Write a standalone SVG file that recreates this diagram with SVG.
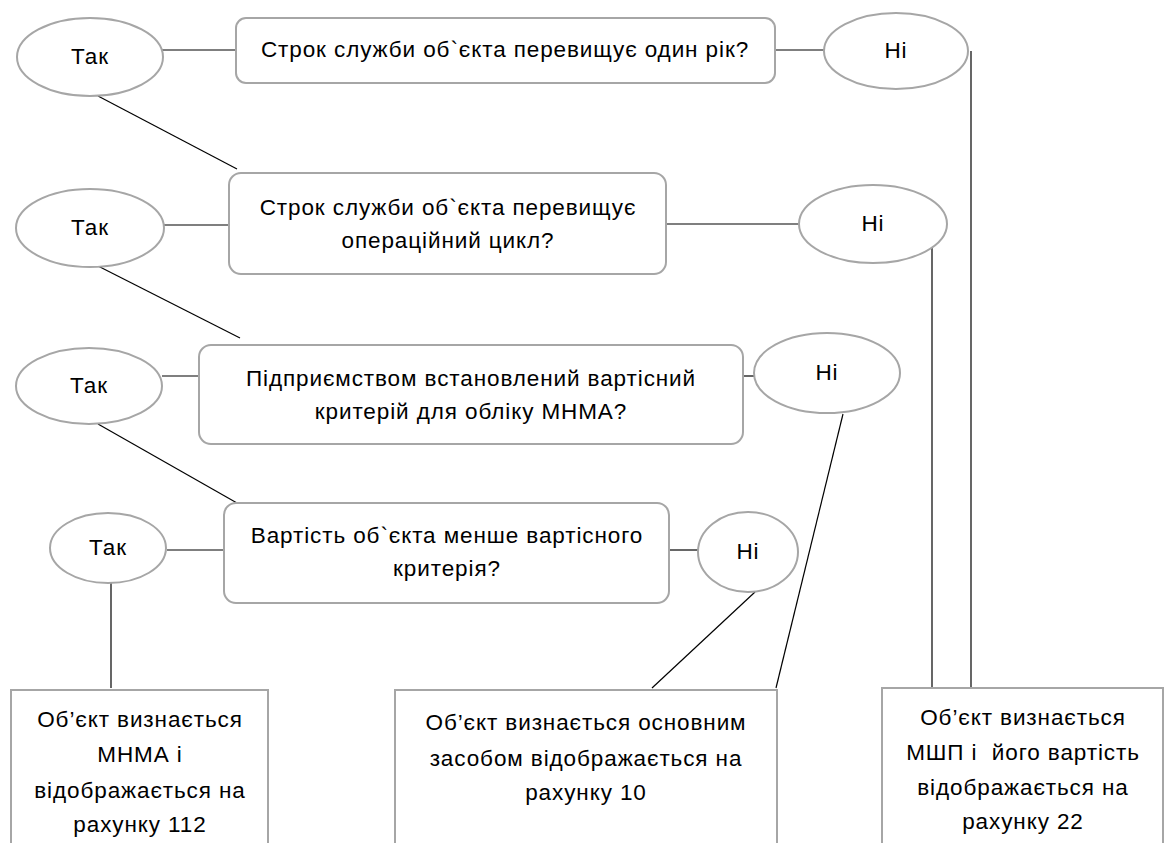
<svg xmlns="http://www.w3.org/2000/svg" width="1166" height="843" viewBox="0 0 1166 843">
<style>
.n{fill:#fff;stroke:#a6a6a6;stroke-width:2}
.c{stroke:#000;stroke-width:1.2;fill:none}
text{font-family:"Liberation Sans",Arial,sans-serif;font-size:22.5px;letter-spacing:0.9px;fill:#000;text-anchor:middle}
</style>
<rect width="1166" height="843" fill="#fff"/>
<g id="connectors">
<line class="c" x1="162" y1="50" x2="236" y2="50"/>
<line class="c" x1="775" y1="50" x2="824" y2="50"/>
<line class="c" x1="98" y1="96" x2="237" y2="169"/>
<line class="c" x1="971" y1="51" x2="971" y2="688"/>
<line class="c" x1="164" y1="225" x2="229" y2="225"/>
<line class="c" x1="666" y1="224" x2="799" y2="224"/>
<line class="c" x1="932" y1="243" x2="932" y2="688"/>
<line class="c" x1="98" y1="266" x2="240" y2="338"/>
<line class="c" x1="162" y1="376" x2="199" y2="376"/>
<line class="c" x1="726" y1="376" x2="754" y2="376"/>
<line class="c" x1="843" y1="414" x2="776" y2="688"/>
<line class="c" x1="98" y1="424" x2="237" y2="503"/>
<line class="c" x1="167" y1="550" x2="224" y2="550"/>
<line class="c" x1="669" y1="550" x2="698" y2="550"/>
<line class="c" x1="111" y1="583" x2="111" y2="688"/>
<line class="c" x1="755" y1="592" x2="652" y2="688"/>
</g>
<g id="q1"><rect class="n" x="236" y="18" width="539" height="65" rx="10"/><text x="505" y="57">Строк служби об`єкта перевищує один рік?</text></g>
<g id="yes1"><ellipse class="n" cx="90" cy="57" rx="73" ry="39"/><text x="90" y="64">Так</text></g>
<g id="no1"><ellipse class="n" cx="896" cy="51" rx="72" ry="38"/><text x="896" y="58">Ні</text></g>
<g id="q2"><rect class="n" x="229" y="173" width="437" height="101" rx="12"/><text x="448" y="215">Строк служби об`єкта перевищує</text><text x="448" y="248">операційний цикл?</text></g>
<g id="yes2"><ellipse class="n" cx="90" cy="228" rx="74" ry="39"/><text x="90" y="235">Так</text></g>
<g id="no2"><ellipse class="n" cx="873" cy="224" rx="74" ry="39"/><text x="873" y="231">Ні</text></g>
<g id="q3"><rect class="n" x="199" y="345" width="544" height="99" rx="12"/><text x="471" y="386">Підприємством встановлений вартісний</text><text x="471" y="419">критерій для обліку МНМА?</text></g>
<g id="yes3"><ellipse class="n" cx="89" cy="386" rx="73" ry="38"/><text x="89" y="393">Так</text></g>
<g id="no3"><ellipse class="n" cx="827" cy="373" rx="73" ry="40"/><text x="827" y="380">Ні</text></g>
<g id="q4"><rect class="n" x="224" y="503" width="445" height="100" rx="12"/><text x="447" y="543">Вартість об`єкта менше вартісного</text><text x="447" y="576">критерія?</text></g>
<g id="yes4"><ellipse class="n" cx="108" cy="548" rx="58" ry="35"/><text x="108" y="555">Так</text></g>
<g id="no4"><ellipse class="n" cx="748" cy="552" rx="50" ry="40"/><text x="748" y="559">Ні</text></g>
<g id="r1"><rect class="n" x="11" y="690" width="257" height="170"/><text x="140" y="727">Об’єкт визнається</text><text x="140" y="762">МНМА і</text><text x="140" y="798">відображається на</text><text x="140" y="832">рахунку 112</text></g>
<g id="r2"><rect class="n" x="395" y="690" width="382" height="170"/><text x="586" y="730">Об’єкт визнається основним</text><text x="586" y="766">засобом відображається на</text><text x="586" y="800">рахунку 10</text></g>
<g id="r3"><rect class="n" x="882" y="688" width="281" height="170"/><text x="1023" y="725">Об’єкт визнається</text><text x="1023" y="760" xml:space="preserve">МШП і  його вартість</text><text x="1023" y="795">відображається на</text><text x="1023" y="829">рахунку 22</text></g>
</svg>
